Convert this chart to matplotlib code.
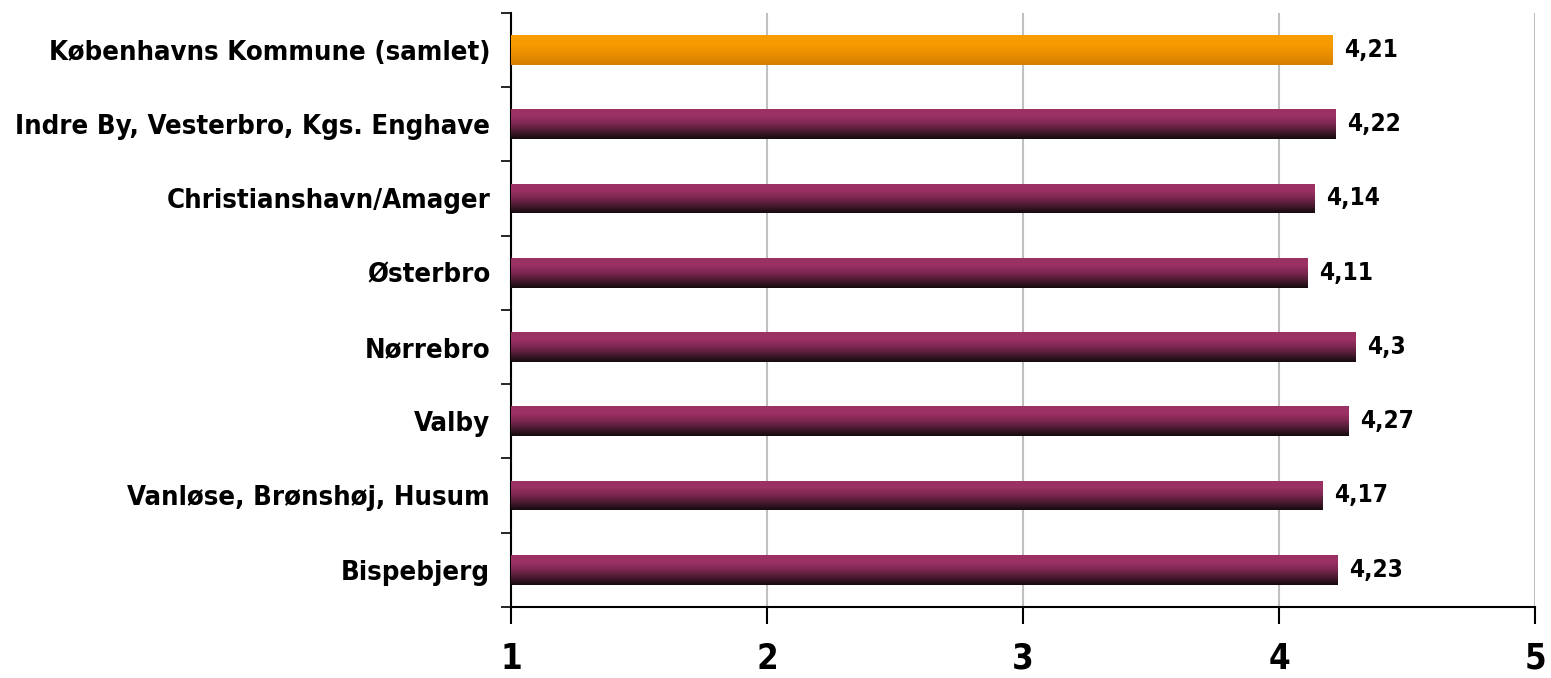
import numpy as np
import matplotlib
matplotlib.use("Agg")
import matplotlib.pyplot as plt
from matplotlib.colors import LinearSegmentedColormap
from matplotlib import font_manager

# prefer a condensed bold face when one is installed
condensed = [f.name for f in font_manager.fontManager.ttflist
             if f.stretch in ("condensed", "semi-condensed") or "Condensed" in f.name or "Narrow" in f.name]
family = [condensed[0]] if condensed else []
plt.rcParams['font.family'] = family + ['Liberation Sans', 'DejaVu Sans']
STRETCH = "condensed"

categories = [
    "Københavns Kommune (samlet)",
    "Indre By, Vesterbro, Kgs. Enghave",
    "Christianshavn/Amager",
    "Østerbro",
    "Nørrebro",
    "Valby",
    "Vanløse, Brønshøj, Husum",
    "Bispebjerg",
]
values = [4.21, 4.22, 4.14, 4.11, 4.3, 4.27, 4.17, 4.23]
value_labels = ["4,21", "4,22", "4,14", "4,11", "4,3", "4,27", "4,17", "4,23"]
xticks = [1, 2, 3, 4, 5]

fig = plt.figure(figsize=(15.51, 6.78), dpi=100)
ax = fig.add_axes([0.3295, 0.105, 0.6602, 0.876])

base = 1
y = np.arange(len(categories))
bars = ax.barh(y, [v - base for v in values], left=base, height=0.4,
               color="none", edgecolor="none", zorder=3)

purple = LinearSegmentedColormap.from_list("pg", ["#140A0E", "#4A1A30", "#7A2650", "#9B3163", "#9B3163"])
orange = LinearSegmentedColormap.from_list("og", ["#D67F00", "#E88E00", "#F59A00", "#F89C00"])
grad = np.linspace(0, 1, 64).reshape(-1, 1)

for i, b in enumerate(bars):
    x0, y0 = b.get_x(), b.get_y()
    w, h = b.get_width(), b.get_height()
    cmap = orange if i == 0 else purple
    im = ax.imshow(grad, cmap=cmap, aspect="auto", origin="upper",
                   extent=(x0, x0 + w, y0, y0 + h), zorder=3,
                   interpolation="nearest")
    im.set_clip_path(b)
    ax.text(x0 + w + 0.045, y0 + h / 2, value_labels[i], va="center", ha="left",
            fontsize=17.5, fontweight="bold", fontstretch=STRETCH, zorder=4)

ax.set_xlim(1, 5)
ax.set_ylim(len(categories) - 0.5, -0.5)

ax.set_xticks(xticks)
ax.set_xticklabels([str(t) for t in xticks], fontsize=25, fontweight="bold", fontstretch=STRETCH)
ax.tick_params(axis="x", direction="out", length=12, width=1.5, pad=13, colors="black")

ax.set_yticks(np.arange(-0.5, len(categories), 1))
ax.set_yticklabels([])
ax.set_yticks(y, minor=True)
ax.set_yticklabels(categories, minor=True, fontsize=19.7, fontweight="bold", fontstretch=STRETCH)
ax.tick_params(axis="y", which="major", direction="out", length=7, width=1.2)
ax.tick_params(axis="y", which="minor", length=0, pad=15)

ax.grid(axis="x", color="#C0C0C0", linewidth=1.5, zorder=0)
ax.set_axisbelow(True)
for s in ["top", "right"]:
    ax.spines[s].set_visible(False)
ax.spines["left"].set_linewidth(1.5)
ax.spines["bottom"].set_linewidth(1.5)

fig.savefig("out.png", dpi=100, facecolor="white")
